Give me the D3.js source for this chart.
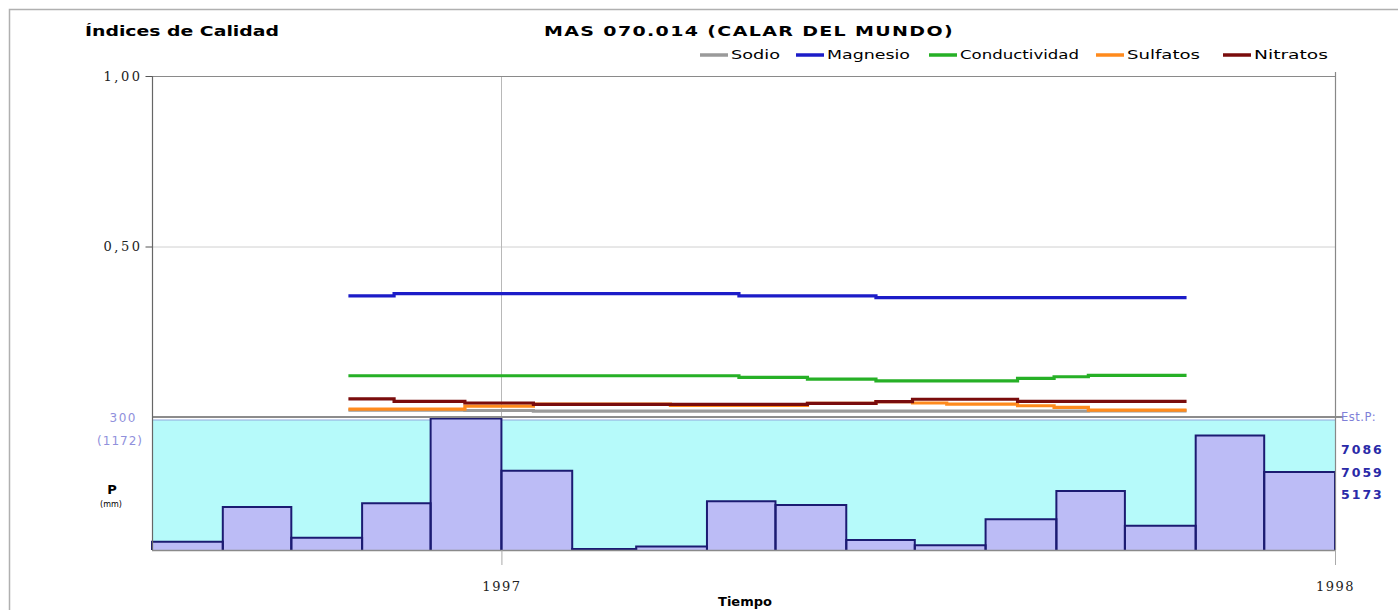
<!DOCTYPE html>
<html><head><meta charset="utf-8">
<script src="https://cdn.jsdelivr.net/npm/d3@7"></script>
<style>body{margin:0;background:#fff} svg{display:block}</style>
</head><body>
<svg id="c" width="1398" height="610"></svg>
<script>
// ---------- DATA ----------
const months = ["1996-08","1996-09","1996-10","1996-11","1996-12","1997-01","1997-02","1997-03","1997-04","1997-05","1997-06","1997-07","1997-08","1997-09","1997-10","1997-11","1997-12"];
const precip = [19, 98, 28, 106, 299, 180, 2, 8, 111, 102, 23, 11, 70, 134, 55, 260, 177];

const sampleDates = ["1996-10-26","1996-11-15","1996-12-16","1997-01-15","1997-02-15","1997-03-16","1997-04-15","1997-05-15","1997-06-14","1997-06-30","1997-07-15","1997-08-15","1997-08-31","1997-09-15","1997-10-28"];
const sodio         = [0.020,0.020,0.019,0.017,0.017,0.017,0.017,0.017,0.017,0.017,0.017,0.017,0.017,0.018,0.018];
const magnesio      = [0.355,0.362,0.362,0.362,0.362,0.362,0.355,0.355,0.350,0.350,0.350,0.350,0.350,0.350,0.350];
const conductividad = [0.121,0.121,0.121,0.121,0.121,0.121,0.116,0.111,0.106,0.106,0.106,0.113,0.118,0.122,0.122];
const sulfatos      = [0.023,0.023,0.032,0.038,0.038,0.034,0.034,0.040,0.045,0.041,0.038,0.033,0.028,0.020,0.020];
const nitratos      = [0.053,0.046,0.041,0.037,0.037,0.037,0.037,0.040,0.045,0.052,0.052,0.046,0.046,0.046,0.046];

const seriesNames  = ["Sodio","Magnesio","Conductividad","Sulfatos","Nitratos"];
const seriesValues = [sodio, magnesio, conductividad, sulfatos, nitratos];
const seriesColors = ["#9a9a9a","#1c1cc8","#26b026","#ff8a1c","#7a0c0c"];

const yTicks = [0.5, 1.0];
const yearTicks = ["1997-01-01","1998-01-01"];
const stationIds = ["7086","7059","5173"];

// ---------- LAYOUT ----------
const svg = d3.select("#c");
const L = 152, R = 1335, T = 76, Z = 417, PT = 418, PB = 550;
const parse = d3.timeParse("%Y-%m-%d");
const parseM = d3.timeParse("%Y-%m");

const x = d3.scaleTime().domain([parse("1996-08-01"), parse("1998-01-01")]).range([L, R]);
const y = d3.scaleLinear().domain([0, 1]).range([Z, T]);
const yp = d3.scaleLinear().domain([0, 300]).range([PB, PT]);

// outer border
svg.append("path").attr("d", `M9.5,615 V9.5 H1398`).attr("fill","none").attr("stroke","#b0b0b0").attr("stroke-width",1.5);

// titles
svg.append("text").attr("x",85).attr("y",36).attr("textLength",194).attr("lengthAdjust","spacingAndGlyphs")
  .attr("font-family","DejaVu Sans").attr("font-weight","bold").attr("font-size",14).text("Índices de Calidad");
svg.append("text").attr("x",544).attr("y",36).attr("textLength",410).attr("lengthAdjust","spacingAndGlyphs")
  .attr("font-family","DejaVu Sans").attr("font-weight","bold").attr("font-size",14).attr("letter-spacing",1).text("MAS 070.014 (CALAR DEL MUNDO)");

// legend
const legX = [700, 796, 929, 1096, 1223];
const legW = [49, 83, 119, 73, 74];
seriesNames.forEach((n,i)=>{
  svg.append("line").attr("x1",legX[i]).attr("x2",legX[i]+28).attr("y1",55).attr("y2",55)
    .attr("stroke",seriesColors[i]).attr("stroke-width",3.5);
  svg.append("text").attr("x",legX[i]+31).attr("y",59).attr("font-family","DejaVu Sans").attr("font-size",11.5)
    .attr("textLength",legW[i]).attr("lengthAdjust","spacingAndGlyphs").text(n);
});

// grid 0.50 and vertical 1997
svg.append("line").attr("x1",L).attr("x2",R).attr("y1",y(0.5)+0.5).attr("y2",y(0.5)+0.5).attr("stroke","#d0d0d0");
svg.append("line").attr("x1",Math.round(x(parse("1997-01-01")))+0.5).attr("x2",Math.round(x(parse("1997-01-01")))+0.5)
  .attr("y1",T).attr("y2",Z).attr("stroke","#b8b8b8");
// top frame line
svg.append("line").attr("x1",L).attr("x2",R).attr("y1",T+0.5).attr("y2",T+0.5).attr("stroke","#8a8a8a");

// precipitation background
svg.append("rect").attr("x",L).attr("y",420).attr("width",R-L).attr("height",PB-420).attr("fill","#b6fafa");
svg.append("line").attr("x1",L).attr("x2",R).attr("y1",420).attr("y2",420).attr("stroke","#90a8dc").attr("stroke-width",1.2);

// bars
const bars = months.map((m,i)=>({x0:x(parseM(m)), x1:x(d3.timeMonth.offset(parseM(m),1)), v:precip[i]}));
svg.selectAll("rect.bar").data(bars).enter().append("rect").attr("class","bar")
  .attr("x",d=>d.x0).attr("width",d=>d.x1-d.x0).attr("y",d=>yp(d.v)).attr("height",d=>PB-yp(d.v))
  .attr("fill","#bcbcf6");
svg.selectAll("path.barline").data(bars).enter().append("path").attr("class","barline")
  .attr("d",d=>`M${d.x0},${PB} V${yp(d.v)} H${d.x1} V${PB}`)
  .attr("fill","none").attr("stroke","#1b1b72").attr("stroke-width",2);

// bottom axis line of precip
svg.append("line").attr("x1",L).attr("x2",R).attr("y1",PB+0.5).attr("y2",PB+0.5).attr("stroke","#8a8a8a").attr("stroke-width",1.5);
// index zero line
svg.append("line").attr("x1",L).attr("x2",R+8).attr("y1",Z).attr("y2",Z).attr("stroke","#8c8c8c").attr("stroke-width",2);

// index lines
const line = d3.line().curve(d3.curveStepAfter).x(d=>x(d.d)).y(d=>y(d.v));
seriesValues.forEach((vals,i)=>{
  const pts = sampleDates.map((s,j)=>({d:parse(s), v:vals[j]}));
  svg.append("path").attr("d",line(pts)).attr("fill","none").attr("stroke",seriesColors[i]).attr("stroke-width",3.2);
});

// left axis
const yAxis = d3.axisLeft(y).tickValues(yTicks).tickSize(7).tickFormat(d=>d3.format(".2f")(d).replace(".",","));
const gy = svg.append("g").attr("transform",`translate(${L+0.5},0)`).call(yAxis);
gy.select(".domain").remove();
gy.selectAll("line").attr("stroke","#555");
gy.selectAll("text").attr("font-family","DejaVu Serif").attr("font-size",13).attr("fill","#222").attr("letter-spacing",2.5);
svg.append("line").attr("x1",L+0.5).attr("x2",L+0.5).attr("y1",T).attr("y2",PB).attr("stroke","#666").attr("stroke-width",1.2);

// bottom time axis
const xAxis = d3.axisBottom(x).tickValues(yearTicks.map(parse)).tickSize(15).tickFormat(d3.timeFormat("%Y"));
const gx = svg.append("g").attr("transform",`translate(0,${PB})`).call(xAxis);
gx.select(".domain").remove();
gx.selectAll("line").attr("stroke","#aaa");
gx.selectAll("text").attr("dy","1.75em").attr("font-family","DejaVu Serif").attr("font-size",13).attr("fill","#222").attr("letter-spacing",1.5);
// right frame line
svg.append("line").attr("x1",R+0.5).attr("x2",R+0.5).attr("y1",T-4).attr("y2",PB).attr("stroke","#888").attr("stroke-width",1.2);

// axis title
svg.append("text").attr("x",745).attr("y",606).attr("text-anchor","middle").attr("font-family","DejaVu Sans")
  .attr("font-weight","bold").attr("font-size",13).text("Tiempo");

// precip labels left
svg.append("text").attr("x",137).attr("y",422).attr("text-anchor","end").attr("font-family","DejaVu Sans")
  .attr("font-size",12).attr("fill","#9090dc").attr("letter-spacing",1.5).text("300");
svg.append("text").attr("x",143).attr("y",445).attr("text-anchor","end").attr("font-family","DejaVu Sans")
  .attr("font-size",12).attr("fill","#9090dc").attr("letter-spacing",1).text("(1172)");
svg.append("text").attr("x",112).attr("y",494).attr("text-anchor","middle").attr("font-family","DejaVu Sans")
  .attr("font-weight","bold").attr("font-size",13).text("P");
svg.append("text").attr("x",111).attr("y",507).attr("text-anchor","middle").attr("font-family","DejaVu Sans")
  .attr("font-size",8).text("(mm)");

// station labels right
svg.append("text").attr("x",1341).attr("y",421).attr("font-family","DejaVu Sans").attr("font-size",11.5)
  .attr("fill","#8080d8").attr("letter-spacing",0.5).text("Est.P:");
stationIds.forEach((s,i)=>{
  svg.append("text").attr("x",1341).attr("y",454+i*22.5).attr("font-family","DejaVu Sans").attr("font-size",12.5)
    .attr("font-weight","bold").attr("fill","#2a2aa8").attr("letter-spacing",2).text(s);
});
</script>
</body></html>
